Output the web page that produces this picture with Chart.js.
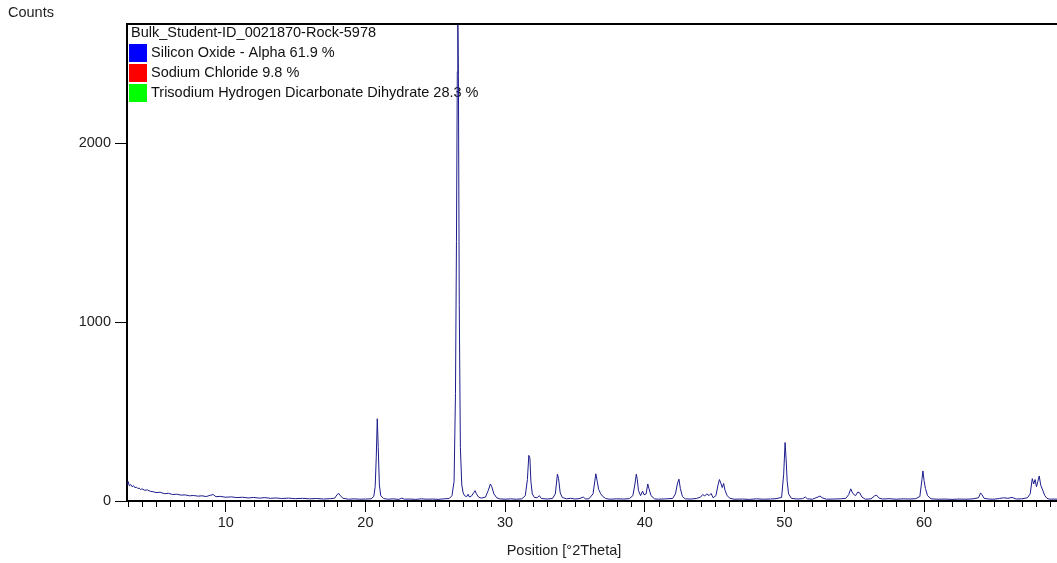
<!DOCTYPE html>
<html>
<head>
<meta charset="utf-8">
<script src="https://cdn.jsdelivr.net/npm/chart.js@4.4.1/dist/chart.umd.min.js"></script>
<style>
  html, body { margin: 0; padding: 0; background: #fff; }
  canvas { display: block; }
</style>
</head>
<body>
<canvas id="xrd" width="1057" height="563"></canvas>
<script>
// patron de difraccion
const twoTheta = [
  2.93, 3.0, 3.1, 3.2, 3.3, 3.4, 3.5, 3.6, 3.7, 3.8, 3.9, 4.0, 4.2, 4.4, 4.6, 4.8, 5.0, 5.3, 5.6, 5.9,
  6.2, 6.5, 6.8, 7.1, 7.4, 7.7, 8.0, 8.3, 8.6, 8.9, 9.1, 9.3, 9.6, 10.0, 10.4, 10.8, 11.2, 11.6, 12.0, 12.4,
  12.8, 13.2, 13.6, 14.0, 14.5, 15.0, 15.5, 16.0, 16.5, 17.0, 17.5, 17.8, 18.0, 18.1, 18.2, 18.4, 18.8, 19.2, 19.6, 20.0,
  20.4, 20.6, 20.7, 20.78, 20.85, 20.92, 21.0, 21.1, 21.3, 21.6, 22.0, 22.4, 22.6, 22.8, 23.2, 23.6, 24.0, 24.4, 24.8, 25.2,
  25.6, 26.0, 26.2, 26.35, 26.45, 26.52, 26.58, 26.62, 26.66, 26.72, 26.8, 26.9, 27.0, 27.1, 27.25, 27.35, 27.45, 27.6, 27.75, 27.85,
  27.95, 28.1, 28.3, 28.6, 28.8, 28.95, 29.05, 29.2, 29.4, 29.6, 30.0, 30.4, 30.8, 31.2, 31.45, 31.6, 31.7, 31.78, 31.85, 31.95,
  32.1, 32.3, 32.45, 32.6, 33.0, 33.4, 33.6, 33.75, 33.83, 33.95, 34.1, 34.4, 34.7, 35.0, 35.3, 35.6, 35.75, 36.0, 36.3, 36.5,
  36.6, 36.7, 36.85, 37.0, 37.2, 37.5, 38.0, 38.5, 38.9, 39.15, 39.3, 39.4, 39.47, 39.55, 39.7, 39.85, 39.95, 40.1, 40.22, 40.3,
  40.45, 40.7, 41.0, 41.5, 42.0, 42.2, 42.35, 42.45, 42.55, 42.7, 42.9, 43.3, 43.7, 44.0, 44.15, 44.3, 44.45, 44.6, 44.75, 44.9,
  45.1, 45.25, 45.35, 45.45, 45.55, 45.65, 45.75, 45.9, 46.1, 46.4, 47.0, 47.5, 48.0, 48.5, 49.0, 49.4, 49.8, 49.95, 50.05, 50.12,
  50.2, 50.3, 50.5, 50.9, 51.3, 51.5, 51.65, 52.0, 52.4, 52.55, 52.7, 53.0, 53.5, 54.0, 54.4, 54.6, 54.75, 54.85, 54.95, 55.1,
  55.25, 55.4, 55.55, 55.8, 56.2, 56.45, 56.6, 56.75, 57.0, 57.5, 58.0, 58.5, 59.0, 59.4, 59.7, 59.85, 59.92, 60.0, 60.1, 60.25,
  60.5, 61.0, 61.5, 62.0, 62.5, 63.0, 63.5, 63.9, 64.05, 64.15, 64.3, 64.6, 65.0, 65.4, 65.7, 66.0, 66.3, 66.6, 67.0, 67.4,
  67.6, 67.75, 67.85, 67.95, 68.05, 68.15, 68.25, 68.35, 68.5, 68.65, 68.8, 69.0, 69.3, 69.6
]
const counts = [
  95, 110, 85, 92, 80, 86, 74, 78, 70, 72, 64, 68, 60, 62, 54, 52, 47, 49, 41, 43,
  36, 38, 33, 34, 29, 31, 27, 29, 25, 32, 36, 24, 26, 21, 23, 19, 21, 17, 20, 16,
  19, 15, 17, 14, 16, 13, 15, 12, 14, 11, 13, 16, 38, 42, 30, 15, 10, 12, 10, 11,
  12, 25, 80, 250, 460, 300, 90, 30, 14, 10, 12, 9, 16, 10, 11, 9, 12, 10, 11, 9,
  12, 14, 30, 110, 600, 1450, 2400, 2667, 2380, 1100, 300, 90, 45, 30, 24, 38, 22, 28, 46, 58,
  40, 22, 16, 22, 60, 95, 80, 40, 18, 12, 10, 12, 10, 12, 30, 120, 255, 240, 110, 40,
  20, 18, 30, 14, 11, 14, 40, 150, 125, 45, 20, 12, 15, 11, 13, 22, 12, 12, 40, 152,
  110, 65, 40, 25, 14, 10, 12, 11, 13, 30, 95, 150, 120, 60, 30, 55, 35, 40, 95, 70,
  30, 12, 10, 12, 14, 40, 100, 122, 70, 25, 12, 11, 14, 22, 36, 28, 40, 30, 42, 18,
  30, 90, 120, 100, 75, 98, 60, 30, 15, 10, 11, 9, 12, 10, 11, 13, 20, 150, 327, 240,
  110, 40, 15, 11, 13, 22, 12, 10, 22, 28, 18, 10, 11, 12, 15, 35, 68, 50, 38, 30,
  50, 45, 22, 10, 12, 28, 33, 18, 11, 13, 10, 12, 11, 13, 25, 120, 168, 115, 70, 30,
  12, 10, 11, 9, 11, 10, 12, 18, 45, 35, 15, 11, 10, 14, 18, 15, 20, 11, 12, 18,
  40, 125, 95, 120, 80, 110, 140, 90, 60, 30, 15, 10, 11, 10
]
const xTickLabels = [10, 20, 30, 40, 50, 60]
const yTickLabels = [0, 1000, 2000]
const sampleName = 'Bulk_Student-ID_0021870-Rock-5978'
const phaseNames = ['Silicon Oxide - Alpha 61.9 %', 'Sodium Chloride 9.8 %', 'Trisodium Hydrogen Dicarbonate Dihydrate 28.3 %']
const phaseColors = ['#0000ff', '#ff0000', '#00ff00']

const fuente = '14.5px "Liberation Sans", Arial, sans-serif'
Chart.defaults.font.family = '"Liberation Sans", Arial, sans-serif'
Chart.defaults.font.size = 14.5
Chart.defaults.color = '#222'

const puntos = twoTheta.map((t, i) => ({ x: t, y: counts[i] }))

// leyenda de fases, titulos de ejes, marcas menores y borde superior
const extrasPlugin = {
  id: 'extras',
  beforeDatasetsDraw(chart) {
    const ctx = chart.ctx
    const area = chart.chartArea
    ctx.save()
    ctx.font = fuente
    ctx.fillStyle = '#111'
    ctx.textBaseline = 'middle'
    ctx.textAlign = 'left'
    ctx.fillText(sampleName, area.left + 4, area.top + 9)
    phaseNames.forEach((nombre, i) => {
      const y = area.top + 20 + i * 20
      ctx.fillStyle = phaseColors[i]
      ctx.fillRect(area.left + 2, y, 18, 18)
      ctx.fillStyle = '#111'
      ctx.fillText(nombre, area.left + 24, y + 9)
    })
    ctx.restore()
  },
  afterDraw(chart) {
    const ctx = chart.ctx
    const area = chart.chartArea
    const xScale = chart.scales.x
    ctx.save()
    ctx.strokeStyle = '#000'
    ctx.lineWidth = 1
    for (let v = 3; v <= 69; v++) {
      if (v % 10 === 0) continue
      const px = Math.round(xScale.getPixelForValue(v)) + 0.5
      ctx.beginPath()
      ctx.moveTo(px, area.bottom)
      ctx.lineTo(px, area.bottom + 6)
      ctx.stroke()
    }
    ctx.lineWidth = 2
    ctx.beginPath()
    ctx.moveTo(area.left - 1, area.top)
    ctx.lineTo(area.right, area.top)
    ctx.stroke()
    ctx.font = fuente
    ctx.fillStyle = '#222'
    ctx.textBaseline = 'middle'
    ctx.textAlign = 'left'
    ctx.fillText('Counts', 8, 13)
    ctx.textAlign = 'center'
    ctx.fillText('Position [°2Theta]', 564, 551)
    ctx.restore()
  }
}

new Chart(document.querySelector('#xrd'), {
  type: 'line',
  data: {
    datasets: [{
      data: puntos,
      borderColor: '#1c1c8c',
      borderWidth: 1,
      pointRadius: 0,
      tension: 0,
      fill: false
    }]
  },
  options: {
    responsive: false,
    animation: false,
    layout: { padding: { top: 24, right: 0, left: 0, bottom: 0 } },
    plugins: { legend: { display: false }, tooltip: { enabled: false } },
    scales: {
      x: {
        type: 'linear',
        min: 2.93,
        max: 69.52,
        afterBuildTicks: (scale) => { scale.ticks = xTickLabels.map(v => ({ value: v })) },
        afterFit: (scale) => { scale.height = 62 },
        grid: { drawOnChartArea: false, drawTicks: true, tickLength: 11, color: '#000' },
        border: { display: true, color: '#000', width: 2 },
        ticks: { padding: 2, maxRotation: 0, autoSkip: false }
      },
      y: {
        min: 0,
        max: 2667,
        afterBuildTicks: (scale) => { scale.ticks = yTickLabels.map(v => ({ value: v })) },
        afterFit: (scale) => { scale.width = 127 },
        grid: { drawOnChartArea: false, drawTicks: true, tickLength: 12, color: '#000' },
        border: { display: true, color: '#000', width: 2 },
        ticks: { padding: 4, callback: (v) => String(v) }
      }
    }
  },
  plugins: [extrasPlugin]
})
</script>
</body>
</html>
